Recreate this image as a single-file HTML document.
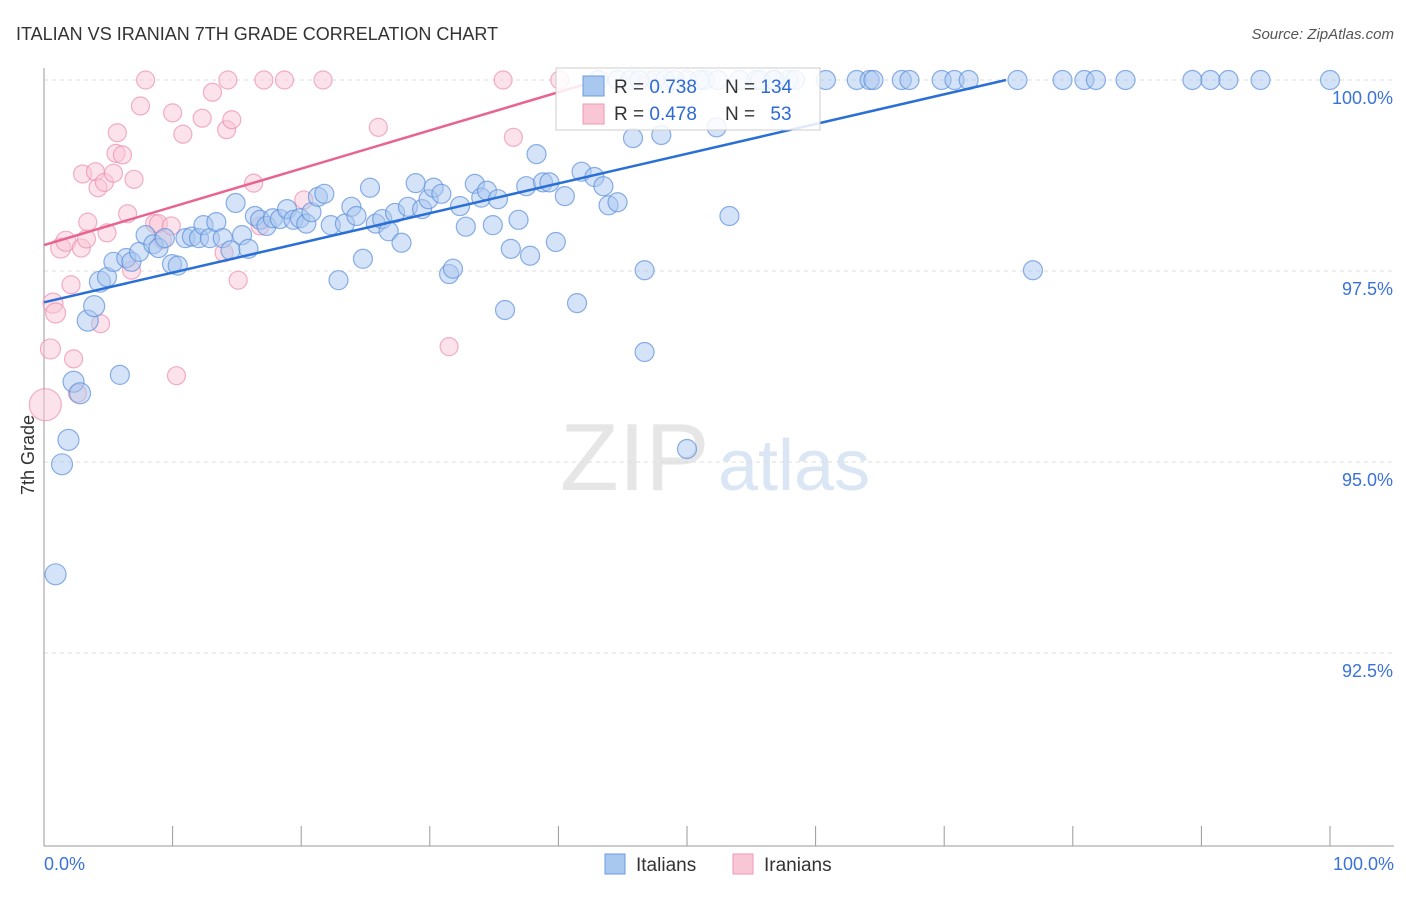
<!DOCTYPE html>
<html><head><meta charset="utf-8">
<style>
html,body{margin:0;padding:0;background:#fff;}
body{width:1406px;height:892px;overflow:hidden;font-family:"Liberation Sans",sans-serif;}
svg text{font-family:"Liberation Sans",sans-serif;}
</style></head>
<body>
<svg id="chart" width="1406" height="892">
<text x="16" y="40" font-size="18" fill="#333">ITALIAN VS IRANIAN 7TH GRADE CORRELATION CHART</text>
<text x="1394" y="39" font-size="15" fill="#555" text-anchor="end" font-style="italic">Source: ZipAtlas.com</text>
<text x="560" y="490" font-size="96" fill="#e6e6e6" font-family="Liberation Serif">ZIP</text>
<text x="718" y="490" font-size="72" fill="#dbe6f5">atlas</text>
<g id="grid"></g>
<g id="axes"></g>
<g id="pts"></g>
<g id="lines"></g>
<text transform="translate(34,455) rotate(-90)" font-size="18" fill="#333" text-anchor="middle">7th Grade</text>
<g>
<rect x="556" y="68" width="264" height="62" fill="#fff" fill-opacity="0.85" stroke="#ccc"/>
<rect x="583" y="76" width="21" height="20" fill="#a9c8f0" stroke="#6b9be0"/>
<rect x="583" y="104" width="21" height="20" fill="#f9c6d6" stroke="#ef9ab4"/>
<text x="614" y="93" font-size="19" fill="#333">R = <tspan fill="#2d6ad6">0.738</tspan></text>
<text x="725" y="93" font-size="19" fill="#333">N = <tspan fill="#2d6ad6">134</tspan></text>
<text x="614" y="120" font-size="19" fill="#333">R = <tspan fill="#2d6ad6">0.478</tspan></text>
<text x="725" y="120" font-size="19" fill="#333">N = <tspan fill="#2d6ad6" dx="10">53</tspan></text>
</g>
<g>
<rect x="605" y="854" width="20" height="20" fill="#a9c8f0" stroke="#6b9be0"/>
<text x="636" y="871" font-size="19" fill="#333">Italians</text>
<rect x="733" y="854" width="20" height="20" fill="#f9c6d6" stroke="#ef9ab4"/>
<text x="764" y="871" font-size="19" fill="#333">Iranians</text>
</g>
</svg>
<script>
const italianX=[0.9,1.4,1.9,2.3,2.8,3.4,3.9,4.35,4.9,5.4,5.9,6.4,6.8,7.4,7.9,8.5,8.9,9.4,9.95,10.4,11.0,11.5,12.05,12.4,12.9,13.4,13.9,14.5,14.9,15.4,15.9,16.4,16.8,17.3,17.8,18.35,18.9,19.4,19.9,20.4,20.8,21.3,21.8,22.3,22.9,23.4,23.9,24.3,24.8,25.35,25.8,26.3,26.8,27.3,27.8,28.3,28.9,29.4,29.9,30.3,30.9,31.5,31.8,32.35,32.8,33.5,34.0,34.45,34.9,35.3,35.85,36.3,36.9,37.5,37.8,38.3,38.8,39.3,39.8,40.5,41.45,41.8,42.8,43.5,43.9,44.6,45.8,46.7,46.7,48.0,50.0,52.3,53.3,76.9,
43.1,44.6,47.5,50.0,51.4,52.4,54.1,55.4,56.7,57.9,60.8,63.2,64.2,64.5,66.7,67.3,69.8,70.8,71.9,75.7,79.2,80.9,81.8,84.1,89.3,90.7,92.1,94.6,100,45.6,46.3,48.3,49.0,51.0,55.7,56.8,58.4];
const italianY=[93.53,94.97,95.29,96.05,95.90,96.85,97.04,97.36,97.42,97.62,96.14,97.67,97.62,97.75,97.97,97.85,97.80,97.93,97.59,97.57,97.93,97.95,97.93,98.10,97.93,98.14,97.93,97.77,98.39,97.97,97.79,98.22,98.17,98.09,98.19,98.18,98.31,98.17,98.19,98.12,98.27,98.47,98.51,98.10,97.38,98.12,98.34,98.22,97.66,98.59,98.12,98.18,98.02,98.26,97.87,98.34,98.65,98.31,98.44,98.59,98.51,97.46,97.53,98.35,98.08,98.64,98.46,98.55,98.10,98.44,96.99,97.79,98.17,98.61,97.70,99.03,98.66,98.66,97.88,98.48,97.08,98.80,98.73,98.61,98.36,98.40,99.24,97.51,96.44,99.28,95.17,99.38,98.22,97.51,
100,100,100,100,100,100,100,100,100,100,100,100,100,100,100,100,100,100,100,100,100,100,100,100,100,100,100,100,100,100,100,100,100,100,100,100,100];
const iranianX=[0.1,0.5,0.7,0.9,1.3,1.7,2.1,2.3,2.6,2.9,3.0,3.3,3.4,4.0,4.2,4.4,4.7,4.9,5.4,5.6,5.7,6.1,6.5,6.8,7.0,7.5,7.9,8.6,8.9,9.2,9.9,10.0,10.3,10.8,12.3,13.1,14.0,14.2,14.3,14.6,15.1,16.3,16.8,17.1,18.7,20.2,21.7,26.0,31.5,35.7,36.5,40.1,47.0];
const iranianY=[95.75,96.48,97.08,96.95,97.80,97.89,97.32,96.35,95.90,97.80,98.77,97.92,98.14,98.80,98.59,96.81,98.66,98.00,98.78,99.04,99.31,99.02,98.25,97.51,98.70,99.66,100,98.12,98.12,97.91,98.09,99.57,96.13,99.29,99.50,99.84,97.74,99.35,100,99.48,97.38,98.65,98.09,100,100,98.43,100,99.38,96.51,100,99.25,100,100];
const yTicks=[100,97.5,95,92.5];
const yTickLabels=["100.0%","97.5%","95.0%","92.5%"];
const xLabels=["0.0%","100.0%"];
const blueLine=[97.09,0.0389];
const pinkLine=[97.84,0.05];

const NS="http://www.w3.org/2000/svg";
const sx=v=>44+v*12.86;
const sy=v=>80+(100-v)*76.4;
function mk(tag,attrs,parent){const e=document.createElementNS(NS,tag);for(const k in attrs)e.setAttribute(k,attrs[k]);parent.appendChild(e);return e;}
const grid=document.getElementById('grid'),axes=document.getElementById('axes'),pts=document.getElementById('pts'),lines=document.getElementById('lines');
yTicks.forEach((t,i)=>{
 const l=mk('line',{x1:44,x2:1394,y1:sy(t),y2:sy(t),stroke:'#ddd','stroke-dasharray':'4,4'},grid);
 
 
 const tx=mk('text',{x:1393,y:sy(t)+24,'font-size':18,fill:'#3a72d8','text-anchor':'end'},grid);
 tx.textContent=yTickLabels[i];
 
 
});
const ax=mk('line',{x1:44,x2:44,y1:68,y2:846,stroke:'#999'},axes);


const bx=mk('line',{x1:44,x2:1394,y1:846,y2:846,stroke:'#999'},axes);


for(let i=0;i<=10;i++){
 const t=mk('line',{x1:sx(i*10),x2:sx(i*10),y1:826,y2:846,stroke:'#999'},axes);
 
 
}
[[0,'start'],[100,'end']].forEach((p,i)=>{
 const tx=mk('text',{x:i?1394:44,y:870,'font-size':18,fill:'#3a72d8','text-anchor':p[1]},axes);
 tx.textContent=xLabels[i];
 
 
});
iranianX.forEach((x,i)=>{
 const r=i===0?16:(x<2?10:9);
 const c=mk('circle',{cx:sx(x),cy:sy(iranianY[i]),r:r,fill:'#f9c6d6','fill-opacity':0.5,stroke:'#ec8fae','stroke-opacity':0.7,'stroke-width':1.2},pts);
 
 
});
italianX.forEach((x,i)=>{
 const r=x<4.5?10.5:9.5;
 const c=mk('circle',{cx:sx(x),cy:sy(italianY[i]),r:r,fill:'#a9c8f0','fill-opacity':0.5,stroke:'#5b8fdc','stroke-opacity':0.7,'stroke-width':1.2},pts);
 
 
});
function trend(p,color,name){
 const xEnd=Math.min(100,(100-p[0])/p[1]);
 const l=mk('line',{x1:sx(0),y1:sy(p[0]),x2:sx(xEnd),y2:sy(p[0]+p[1]*xEnd),stroke:color,'stroke-width':2.5},lines);
 
 
 if(xEnd<100){
  const l2=mk('line',{x1:sx(xEnd),y1:sy(100),x2:sx(100),y2:sy(100),stroke:color,'stroke-width':2.5,'stroke-opacity':0},lines);
  
  
 }
}
trend(pinkLine,'#e8648f','iranian-trend-line');
trend(blueLine,'#2a6fd6','italian-trend-line');
</script>
</body></html>
